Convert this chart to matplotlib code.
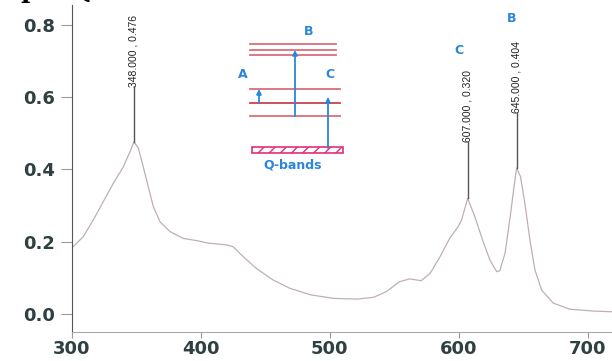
import numpy as np
import matplotlib.pyplot as plt
from matplotlib.patches import Rectangle

# absorbance spectrum
wavelength = [300, 308.8, 316.5, 324.3, 332, 339.8, 345, 348, 351.4, 355.3, 359.2, 363.1,
              368.3, 376, 386.3, 396.7, 405.7, 420, 425, 433, 443, 456, 469, 485, 503,
              521, 534, 544, 554, 562, 571, 578, 585.5, 593, 599.7, 602.3, 607, 612.6,
              619, 624.3, 629.5, 632, 636, 640, 643, 645, 648, 651.4, 655.3, 659.2, 664.4,
              673.4, 686.3, 704.4, 719]
absorbance = [0.183, 0.214, 0.260, 0.311, 0.361, 0.407, 0.449, 0.476, 0.460, 0.407, 0.352,
              0.297, 0.255, 0.228, 0.209, 0.203, 0.196, 0.191, 0.186, 0.158, 0.126, 0.094,
              0.071, 0.053, 0.043, 0.041, 0.046, 0.062, 0.089, 0.097, 0.092, 0.113, 0.158,
              0.209, 0.242, 0.260, 0.320, 0.269, 0.200, 0.149, 0.117, 0.120, 0.168, 0.269,
              0.352, 0.404, 0.380, 0.306, 0.205, 0.122, 0.066, 0.030, 0.013, 0.008, 0.006]

peak_x = [348, 607, 645]
peak_y = [0.476, 0.320, 0.404]
peak_top = [0.628, 0.476, 0.556]
peak_text = ["348.000 , 0.476", "607.000 , 0.320", "645.000 , 0.404"]

xticks = [300, 400, 500, 600, 700]
yticks = [0.0, 0.2, 0.4, 0.6, 0.8]

fig = plt.figure(figsize=(6.12, 3.61), dpi=100)
ax = fig.add_axes([72 / 612, 29 / 361, 540 / 612, 327 / 361])

ax.plot(wavelength, absorbance, color="#bfb0b0", lw=0.9)
for x, y, top, txt in zip(peak_x, peak_y, peak_top, peak_text):
    ax.plot([x, x], [y, top], color="#555555", lw=1.0)
    ax.text(x, top, txt, rotation=90, ha="center", va="bottom", fontsize=7.5,
            family="Liberation Sans", color="#222222")

# band letters over the peaks
ax.text(600, 0.73, "C", color="#2a86d8", fontsize=9, fontweight="bold",
        ha="center", va="center")
ax.text(641, 0.819, "B", color="#2a86d8", fontsize=9, fontweight="bold",
        ha="center", va="center")

ax.set_xlim(300, 719)
ax.set_ylim(-0.05, 0.855)
ax.set_xticks(xticks)
ax.set_yticks(yticks)
ax.set_xticklabels([str(t) for t in xticks])
ax.set_yticklabels(["%.1f" % t for t in yticks])
for lab in ax.get_xticklabels() + ax.get_yticklabels():
    lab.set_fontweight("heavy")
    lab.set_fontsize(13)
    lab.set_color("#2f4040")
ax.tick_params(axis="y", direction="out", length=8, width=0.8, color="#999999", pad=4)
ax.tick_params(axis="x", direction="out", length=4, width=0.8, color="#999999", pad=2)
ax.spines["top"].set_visible(False)
ax.spines["right"].set_visible(False)
ax.spines["left"].set_color("#555555")
ax.spines["bottom"].set_color("#aaaaaa")

# energy level sketch (inset, coordinates in its own units)
ins = fig.add_axes([240 / 612, 1 - 170 / 361, 110 / 612, 145 / 361])
ins.set_xlim(240, 350)
ins.set_ylim(170, 25)
ins.axis("off")
upper_levels = [44, 50, 55]
lower_levels = [89, 103, 116]
for lv in upper_levels:
    ins.plot([250, 336], [lv, lv], color="#d9707a", lw=1.3)
for lv in lower_levels:
    ins.plot([250, 340], [lv, lv], color="#d9707a" if lv != 103 else "#cc4050", lw=1.3)
arrows = [(259, 103, 89), (295, 116, 50), (328, 148, 97)]
for ax_x, y0, y1 in arrows:
    ins.annotate("", xy=(ax_x, y1), xytext=(ax_x, y0),
                 arrowprops=dict(arrowstyle="-|>", color="#2a86d8", lw=1.3,
                                 mutation_scale=7, shrinkA=0, shrinkB=0))
ins.add_patch(Rectangle((252, 147), 91, 6, fill=False, edgecolor="#e0307a",
                        hatch="///", lw=1.2))
ins.text(309, 35, "B", color="#2a86d8", fontsize=9, fontweight="bold", ha="center")
ins.text(243, 78, "A", color="#2a86d8", fontsize=9, fontweight="bold", ha="center")
ins.text(330, 78, "C", color="#2a86d8", fontsize=9, fontweight="bold", ha="center")
ins.text(293, 165, "Q-bands", color="#2a86d8", fontsize=9, fontweight="bold",
         ha="center", va="center")

# cropped heading at the very top (cut off in the original too)
fig.text(20 / 612, 1 + 2 / 361, "p", family="DejaVu Serif", fontweight="bold",
         fontsize=18, va="baseline")
fig.text(72 / 612, 1 + 2 / 361, "Q", family="DejaVu Serif", fontweight="bold",
         fontsize=18, va="baseline")

fig.savefig("out.png", dpi=100)
